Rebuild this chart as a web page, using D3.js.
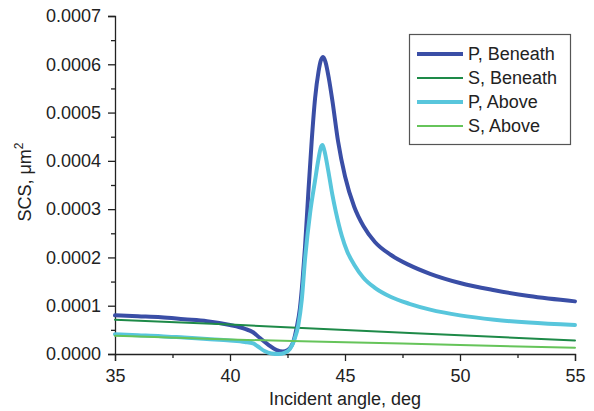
<!DOCTYPE html>
<html>
<head>
<meta charset="utf-8">
<script src="https://cdn.jsdelivr.net/npm/d3@7"></script>
<style>
  html, body { margin: 0; padding: 0; background: #fff; }
  svg { display: block; font-family: "Liberation Sans", Arial, Helvetica, sans-serif; }
</style>
</head>
<body>
<svg id="chart" width="594" height="411"></svg>
<script>
// Scattering cross section vs. incident angle, four polarisation / position cases.
const anglesPBeneath = [35, 36, 37, 38, 39, 40, 40.65, 41.0, 41.3, 41.67, 42.03, 42.3, 42.5, 42.65, 42.75,
  42.9, 43.04, 43.15, 43.26, 43.4, 43.55, 43.7, 43.85, 43.95, 44.05, 44.15, 44.3, 44.45, 44.7,
  45.0, 45.4, 45.8, 46.3, 47.0, 47.8, 48.7, 50, 51.5, 53, 55];
const scsPBeneath = [0.80e-4, 0.78e-4, 0.76e-4, 0.72e-4, 0.68e-4, 0.60e-4, 0.52e-4, 0.45e-4, 0.33e-4, 0.19e-4,
  0.08e-4, 0.05e-4, 0.08e-4, 0.15e-4, 0.25e-4, 0.55e-4, 0.95e-4, 1.5e-4, 2.2e-4, 3.3e-4, 4.4e-4, 5.3e-4,
  5.85e-4, 6.08e-4, 6.15e-4, 6.05e-4, 5.7e-4, 5.25e-4, 4.4e-4, 3.68e-4, 3.05e-4, 2.65e-4, 2.32e-4, 2.05e-4,
  1.84e-4, 1.66e-4, 1.47e-4, 1.32e-4, 1.2e-4, 1.09e-4];

const anglesSBeneath = [35, 40, 45, 50, 55];
const scsSBeneath = [0.71e-4, 0.61e-4, 0.495e-4, 0.39e-4, 0.28e-4];

const anglesPAbove = [35, 36, 37, 38, 39, 40, 40.65, 41.0, 41.2, 41.5, 41.8, 42.1, 42.4, 42.6, 42.8, 42.97,
  43.12, 43.26, 43.48, 43.7, 43.84, 43.95, 44.02, 44.1, 44.27, 44.45, 44.6, 44.86, 45.1, 45.4, 45.8,
  46.3, 47.0, 47.8, 48.7, 50, 51.5, 53, 55];
const scsPAbove = [0.41e-4, 0.39e-4, 0.37e-4, 0.34e-4, 0.31e-4, 0.28e-4, 0.25e-4, 0.22e-4, 0.16e-4, 0.06e-4,
  0.01e-4, 0.0, 0.03e-4, 0.10e-4, 0.3e-4, 0.6e-4, 1.12e-4, 1.95e-4, 2.91e-4, 3.6e-4, 4.02e-4, 4.28e-4,
  4.33e-4, 4.22e-4, 3.8e-4, 3.3e-4, 2.95e-4, 2.45e-4, 2.12e-4, 1.85e-4, 1.58e-4, 1.37e-4, 1.18e-4,
  1.04e-4, 0.92e-4, 0.80e-4, 0.71e-4, 0.65e-4, 0.60e-4];

const anglesSAbove = [35, 40, 45, 50, 55];
const scsSAbove = [0.38e-4, 0.30e-4, 0.245e-4, 0.185e-4, 0.13e-4];

const seriesNames = ["P, Beneath", "S, Beneath", "P, Above", "S, Above"];
const xTickValues = [35, 40, 45, 50, 55];
const yTickValues = [0, 0.0001, 0.0002, 0.0003, 0.0004, 0.0005, 0.0006, 0.0007];

const series = [
  { name: seriesNames[0], x: anglesPBeneath, y: scsPBeneath, color: "#3a4ea6", width: 4 },
  { name: seriesNames[1], x: anglesSBeneath, y: scsSBeneath, color: "#1e8a48", width: 2 },
  { name: seriesNames[2], x: anglesPAbove,   y: scsPAbove,   color: "#58c6dc", width: 4 },
  { name: seriesNames[3], x: anglesSAbove,   y: scsSAbove,   color: "#66c45a", width: 2 }
];

const svg = d3.select("#chart");
const plot = { left: 115, right: 575, top: 16, bottom: 354 };

const x = d3.scaleLinear().domain([35, 55]).range([plot.left, plot.right]);
const y = d3.scaleLinear().domain([0, 0.0007]).range([plot.bottom, plot.top]);

const axisColor = "#222";

// minor ticks
const xMinor = d3.axisBottom(x).tickValues(d3.range(37.5, 55, 5)).tickSize(4).tickFormat("");
svg.append("g").attr("transform", `translate(0,${plot.bottom})`).call(xMinor)
  .call(g => g.select(".domain").remove())
  .call(g => g.selectAll("line").attr("stroke", axisColor).attr("stroke-width", 1.3));

const yMinor = d3.axisLeft(y).tickValues(d3.range(0.00005, 0.0007, 0.0001)).tickSize(4).tickFormat("");
svg.append("g").attr("transform", `translate(${plot.left},0)`).call(yMinor)
  .call(g => g.select(".domain").remove())
  .call(g => g.selectAll("line").attr("stroke", axisColor).attr("stroke-width", 1.3));

// major axes
const xAxis = d3.axisBottom(x).tickValues(xTickValues).tickSize(7).tickPadding(8).tickFormat(d3.format("d"));
svg.append("g").attr("transform", `translate(0,${plot.bottom})`).call(xAxis)
  .call(g => g.select(".domain").attr("stroke", axisColor).attr("stroke-width", 1.3))
  .call(g => g.selectAll("line").attr("stroke", axisColor).attr("stroke-width", 1.3))
  .call(g => g.selectAll("text").attr("font-size", 18).attr("fill", "#222")
    .attr("font-family", "'Liberation Sans', Arial, sans-serif"));

const yAxis = d3.axisLeft(y).tickValues(yTickValues).tickSize(7).tickPadding(7).tickFormat(d3.format(".4f"));
svg.append("g").attr("transform", `translate(${plot.left},0)`).call(yAxis)
  .call(g => g.select(".domain").attr("stroke", axisColor).attr("stroke-width", 1.3))
  .call(g => g.selectAll("line").attr("stroke", axisColor).attr("stroke-width", 1.3))
  .call(g => g.selectAll("text").attr("font-size", 18).attr("fill", "#222")
    .attr("font-family", "'Liberation Sans', Arial, sans-serif"));

// axis titles
svg.append("text")
  .attr("x", (plot.left + plot.right) / 2).attr("y", 405)
  .attr("text-anchor", "middle").attr("font-size", 18).attr("fill", "#222")
  .text("Incident angle, deg");

const yTitle = svg.append("text")
  .attr("transform", `translate(31,${(plot.top + plot.bottom) / 2 - 3}) rotate(-90)`)
  .attr("text-anchor", "middle").attr("font-size", 18).attr("fill", "#222");
yTitle.append("tspan").text("SCS, \u03bcm");
yTitle.append("tspan").attr("font-size", 12).attr("dy", -8).text("2");

// curves
const line = d3.line()
  .x(d => x(d[0]))
  .y(d => y(d[1]))
  .curve(d3.curveMonotoneX);

const curves = svg.append("g");
series.forEach(s => {
  curves.append("path")
    .datum(s.x.map((a, i) => [a, s.y[i]]))
    .attr("d", line)
    .attr("fill", "none")
    .attr("stroke", s.color)
    .attr("stroke-width", s.width)
    .attr("stroke-linejoin", "round")
    .attr("stroke-linecap", "round");
});

// legend
const legend = svg.append("g");
legend.append("rect")
  .attr("x", 409.5).attr("y", 34.5).attr("width", 161).attr("height", 110)
  .attr("fill", "#fff").attr("stroke", "#555").attr("stroke-width", 1.2);
series.forEach((s, i) => {
  const ly = 54 + i * 24;
  legend.append("line")
    .attr("x1", 417).attr("x2", 463).attr("y1", ly).attr("y2", ly)
    .attr("stroke", s.color).attr("stroke-width", s.width);
  legend.append("text")
    .attr("x", 468).attr("y", ly).attr("dy", "0.35em")
    .attr("font-size", 18).attr("fill", "#222")
    .text(s.name);
});
</script>
</body>
</html>
